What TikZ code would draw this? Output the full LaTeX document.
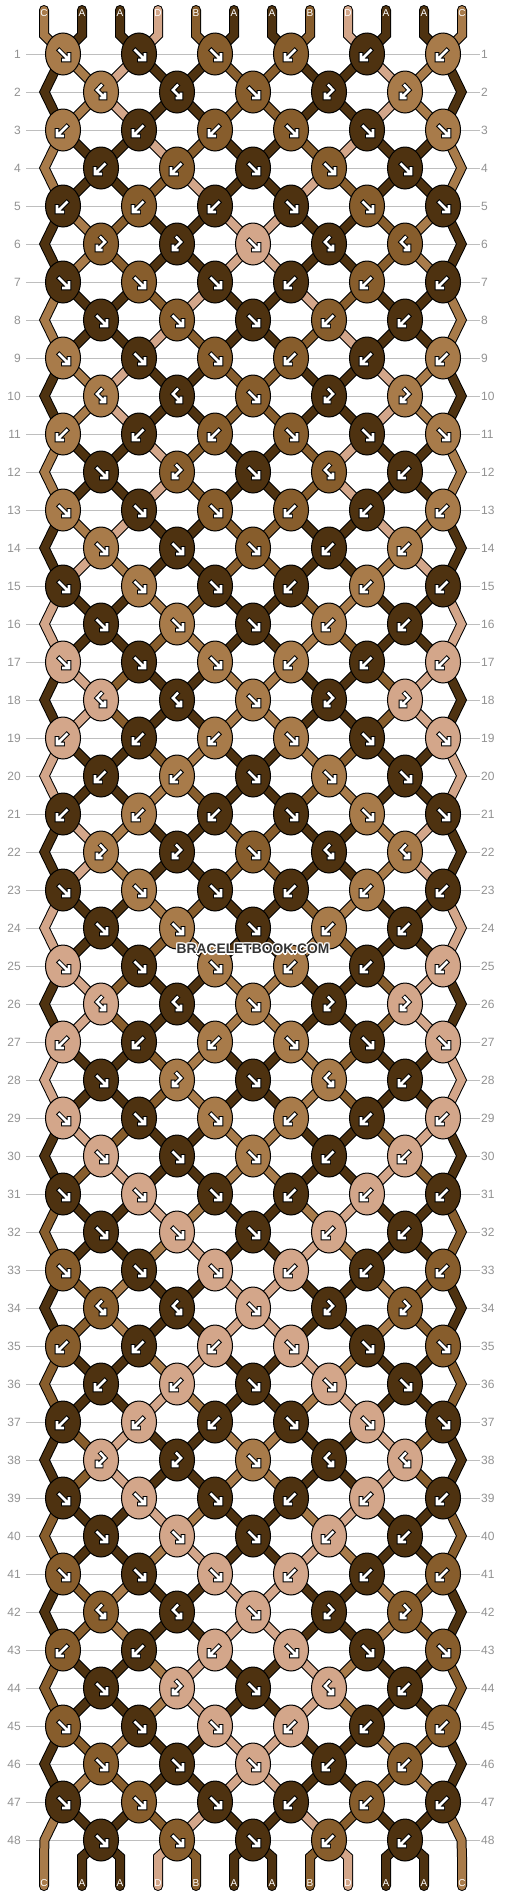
\documentclass[tikz,border=0pt]{standalone}
\usepackage{fontspec}
\setmainfont{Liberation Sans}
\usetikzlibrary{shapes.geometric}
\definecolor{cA}{HTML}{4E3210}
\definecolor{cB}{HTML}{875D2C}
\definecolor{cC}{HTML}{A87B4A}
\definecolor{cD}{HTML}{D3A68A}
\definecolor{gridc}{HTML}{BEBEBE}
\definecolor{numc}{HTML}{929292}
\definecolor{wmc}{HTML}{333333}
\pgfdeclarelayer{gridl}
\pgfdeclarelayer{strandl}
\pgfsetlayers{gridl,strandl,main}

\tikzset{
  outl/.style={line width=10pt, draw=black, line cap=round, line join=miter},
  fil/.style={line width=8pt, draw=\scol, line cap=round, line join=miter},
  knot/.style={ellipse, draw=black, line width=1pt, minimum width=35pt, minimum height=42pt, inner sep=0pt},
  arout/.style={line width=4.6pt, draw=black, line cap=butt, line join=miter},
  arin/.style={line width=2.6pt, draw=white, line cap=butt, line join=miter},
  numlab/.style={font=\fontsize{12}{12}\selectfont, text=numc, inner sep=0pt},
  endlab/.style={font=\fontsize{10}{10}\selectfont, text=white, inner sep=0pt},
  gridline/.style={draw=gridc, line width=1pt},
  wmark/.style={font=\bfseries\fontsize{13.8}{14}\selectfont, inner sep=0pt}
}

% string colours after each row (row 0 = start)
\foreach \st [count=\rr from 0] in {{C,A,A,D,B,A,A,B,D,A,A,C},
{A,C,D,A,A,B,B,A,A,D,C,A},
{A,C,D,A,A,B,B,A,A,D,C,A},
{C,A,A,D,B,A,A,B,D,A,A,C},
{C,A,A,B,D,A,A,D,B,A,A,C},
{A,C,B,A,A,D,D,A,A,B,C,A},
{A,C,B,A,A,D,D,A,A,B,C,A},
{C,A,A,B,D,A,A,D,B,A,A,C},
{C,A,A,D,B,A,A,B,D,A,A,C},
{A,C,D,A,A,B,B,A,A,D,C,A},
{A,C,D,A,A,B,B,A,A,D,C,A},
{C,A,A,D,B,A,A,B,D,A,A,C},
{C,A,A,D,B,A,A,B,D,A,A,C},
{A,C,D,A,A,B,B,A,A,D,C,A},
{A,D,C,A,A,B,B,A,A,C,D,A},
{D,A,A,C,B,A,A,B,C,A,A,D},
{D,A,A,B,C,A,A,C,B,A,A,D},
{A,D,B,A,A,C,C,A,A,B,D,A},
{A,D,B,A,A,C,C,A,A,B,D,A},
{D,A,A,B,C,A,A,C,B,A,A,D},
{D,A,A,C,B,A,A,B,C,A,A,D},
{A,D,C,A,A,B,B,A,A,C,D,A},
{A,D,C,A,A,B,B,A,A,C,D,A},
{D,A,A,C,B,A,A,B,C,A,A,D},
{D,A,A,B,C,A,A,C,B,A,A,D},
{A,D,B,A,A,C,C,A,A,B,D,A},
{A,D,B,A,A,C,C,A,A,B,D,A},
{D,A,A,B,C,A,A,C,B,A,A,D},
{D,A,A,B,C,A,A,C,B,A,A,D},
{A,D,B,A,A,C,C,A,A,B,D,A},
{A,B,D,A,A,C,C,A,A,D,B,A},
{B,A,A,D,C,A,A,C,D,A,A,B},
{B,A,A,C,D,A,A,D,C,A,A,B},
{A,B,C,A,A,D,D,A,A,C,B,A},
{A,B,C,A,A,D,D,A,A,C,B,A},
{B,A,A,C,D,A,A,D,C,A,A,B},
{B,A,A,D,C,A,A,C,D,A,A,B},
{A,B,D,A,A,C,C,A,A,D,B,A},
{A,B,D,A,A,C,C,A,A,D,B,A},
{B,A,A,D,C,A,A,C,D,A,A,B},
{B,A,A,C,D,A,A,D,C,A,A,B},
{A,B,C,A,A,D,D,A,A,C,B,A},
{A,B,C,A,A,D,D,A,A,C,B,A},
{B,A,A,C,D,A,A,D,C,A,A,B},
{B,A,A,C,D,A,A,D,C,A,A,B},
{A,B,C,A,A,D,D,A,A,C,B,A},
{A,C,B,A,A,D,D,A,A,B,C,A},
{C,A,A,B,D,A,A,D,B,A,A,C},
{C,A,A,D,B,A,A,B,D,A,A,C}}{\foreach \sc [count=\pp from 0] in \st {\expandafter\xdef\csname st-\rr-\pp\endcsname{\sc}}}

% knot colour / knot type for every row
\def\knotdata{{C/F,A/F,B/F,B/B,A/B,C/B},
{C/P,A/P,B/F,A/Q,C/Q},
{C/B,A/B,B/B,B/F,A/F,C/F},
{A/B,B/B,A/F,B/F,A/F},
{A/B,B/B,A/B,A/F,B/F,A/F},
{B/Q,A/Q,D/F,A/P,B/P},
{A/F,B/F,A/F,A/B,B/B,A/B},
{A/F,B/F,A/F,B/B,A/B},
{C/F,A/F,B/F,B/B,A/B,C/B},
{C/P,A/P,B/F,A/Q,C/Q},
{C/B,A/B,B/B,B/F,A/F,C/F},
{A/F,B/Q,A/F,B/P,A/B},
{C/F,A/F,B/F,B/B,A/B,C/B},
{C/F,A/F,B/F,A/B,C/B},
{A/F,C/F,A/F,A/B,C/B,A/B},
{A/F,C/F,A/F,C/B,A/B},
{D/F,A/F,C/F,C/B,A/B,D/B},
{D/P,A/P,C/F,A/Q,D/Q},
{D/B,A/B,C/B,C/F,A/F,D/F},
{A/B,C/B,A/F,C/F,A/F},
{A/B,C/B,A/B,A/F,C/F,A/F},
{C/Q,A/Q,B/F,A/P,C/P},
{A/F,C/F,A/F,A/B,C/B,A/B},
{A/F,C/F,A/F,C/B,A/B},
{D/F,A/F,C/F,C/B,A/B,D/B},
{D/P,A/P,C/F,A/Q,D/Q},
{D/B,A/B,C/B,C/F,A/F,D/F},
{A/F,C/Q,A/F,C/P,A/B},
{D/F,A/F,C/F,C/B,A/B,D/B},
{D/F,A/F,C/F,A/B,D/B},
{A/F,D/F,A/F,A/B,D/B,A/B},
{A/F,D/F,A/F,D/B,A/B},
{B/F,A/F,D/F,D/B,A/B,B/B},
{B/P,A/P,D/F,A/Q,B/Q},
{B/B,A/B,D/B,D/F,A/F,B/F},
{A/B,D/B,A/F,D/F,A/F},
{A/B,D/B,A/B,A/F,D/F,A/F},
{D/Q,A/Q,C/F,A/P,D/P},
{A/F,D/F,A/F,A/B,D/B,A/B},
{A/F,D/F,A/F,D/B,A/B},
{B/F,A/F,D/F,D/B,A/B,B/B},
{B/P,A/P,D/F,A/Q,B/Q},
{B/B,A/B,D/B,D/F,A/F,B/F},
{A/F,D/Q,A/F,D/P,A/B},
{B/F,A/F,D/F,D/B,A/B,B/B},
{B/F,A/F,D/F,A/B,B/B},
{A/F,B/F,A/F,A/B,B/B,A/B},
{A/F,B/F,A/F,B/B,A/B}}

% knot arrows
\newcommand\arF[2]{\begin{scope}[shift={(#1,#2)}]
  \draw[arout] (-5.3,-5.3) -- (6,6) (6,-1.8) -- (6,6) -- (-1.8,6);
  \draw[arin] (-4.6,-4.6) -- (6,6) (6,-1) -- (6,6) -- (-1,6);
\end{scope}}
\newcommand\arB[2]{\begin{scope}[shift={(#1,#2)}]
  \draw[arout] (5.3,-5.3) -- (-6,6) (-6,-1.8) -- (-6,6) -- (1.8,6);
  \draw[arin] (4.6,-4.6) -- (-6,6) (-6,-1) -- (-6,6) -- (1,6);
\end{scope}}
\newcommand\arP[2]{\begin{scope}[shift={(#1,#2)}]
  \draw[arout] (1.6,-8.1) -- (-4,-2) -- (4,6) (4,-0.3) -- (4,6) -- (-2.3,6);
  \draw[arin] (1.1,-7.5) -- (-4,-2) -- (4,6) (4,0.5) -- (4,6) -- (-1.5,6);
\end{scope}}
\newcommand\arQ[2]{\begin{scope}[shift={(#1,#2)}]
  \draw[arout] (-1.6,-8.1) -- (4,-2) -- (-4,6) (-4,-0.3) -- (-4,6) -- (2.3,6);
  \draw[arin] (-1.1,-7.5) -- (4,-2) -- (-4,6) (-4,0.5) -- (-4,6) -- (1.5,6);
\end{scope}}

\newcommand\allstrands[1]{%
  \foreach \pp in {0,...,11}{%
    \pgfmathtruncatemacro\ja{\pp/2}%
    \edef\scol{c\csname st-0-\pp\endcsname}%
    \draw[#1] (tt\pp) -- (t\pp) -- (k1-\ja.center);
  }%
  \foreach \rr in {1,...,47}{%
    \pgfmathtruncatemacro\rn{\rr+1}%
    \foreach \pp in {1,...,10}{%
      \ifodd\rr\relax
        \pgfmathtruncatemacro\ja{\pp/2}\pgfmathtruncatemacro\jb{(\pp-1)/2}%
      \else
        \pgfmathtruncatemacro\ja{(\pp-1)/2}\pgfmathtruncatemacro\jb{\pp/2}%
      \fi
      \edef\scol{c\csname st-\rr-\pp\endcsname}%
      \draw[#1] (k\rr-\ja.center) -- (k\rn-\jb.center);
    }%
  }%
  \foreach \ee in {2,4,...,46}{%
    \pgfmathtruncatemacro\ep{\ee-1}\pgfmathtruncatemacro\en{\ee+1}%
    \edef\scol{c\csname st-\ep-0\endcsname}%
    \draw[#1] (k\ep-0.center) -- (eL\ee) -- (k\en-0.center);
    \edef\scol{c\csname st-\ep-11\endcsname}%
    \draw[#1] (k\ep-5.center) -- (eR\ee) -- (k\en-5.center);
  }%
  \edef\scol{c\csname st-47-0\endcsname}%
  \draw[#1] (k47-0.center) -- (eL48) -- (b0) -- (bb0);
  \edef\scol{c\csname st-47-11\endcsname}%
  \draw[#1] (k47-5.center) -- (eR48) -- (b11) -- (bb11);
  \foreach \pp in {1,...,10}{%
    \pgfmathtruncatemacro\jb{(\pp-1)/2}%
    \edef\scol{c\csname st-48-\pp\endcsname}%
    \draw[#1] (k48-\jb.center) -- (b\pp) -- (bb\pp);
  }%
}

\begin{document}
\begin{tikzpicture}[x=1pt,y=-1pt]
\begin{pgfonlayer}{gridl}
  \fill[white] (0,0) rectangle (506,1896);
\end{pgfonlayer}
\useasboundingbox (0,0) rectangle (506,1896);

% end points of the strings
\foreach \pp in {0,...,11}{
  \pgfmathsetmacro\xx{44+38*\pp}
  \coordinate (tt\pp) at (\xx,10);
  \coordinate (t\pp) at (\xx,35);
  \coordinate (b\pp) at (\xx,1857);
  \coordinate (bb\pp) at (\xx,1886);
  \node[endlab] (lt\pp) at (\xx,13) {\csname st-0-\pp\endcsname};
  \node[endlab] (lb\pp) at (\xx,1883) {\csname st-48-\pp\endcsname};
}
% edge turning points
\foreach \ee in {2,4,...,48}{
  \pgfmathsetmacro\yy{16+38*\ee}
  \coordinate (eL\ee) at (44.5,\yy);
  \coordinate (eR\ee) at (461.5,\yy);
}

% row numbers and guide lines
\foreach \rr in {1,...,48}{
  \pgfmathsetmacro\yy{16+38*\rr}
  \node[numlab, anchor=east] (nl\rr) at (21,\yy) {\rr};
  \node[numlab, anchor=west] (nr\rr) at (481,\yy) {\rr};
}
\begin{pgfonlayer}{gridl}
  \foreach \rr in {1,...,48}{
    \draw[gridline] ([xshift=5pt]nl\rr.east) -- ([xshift=-1pt]nr\rr.west);
  }
\end{pgfonlayer}

% knots
\foreach \kr [count=\rr] in \knotdata {
  \foreach \kc/\kt [count=\jj from 0] in \kr {
    \pgfmathsetmacro\ky{16+38*\rr}
    \ifodd\rr\relax
      \pgfmathsetmacro\kx{63+76*\jj}
    \else
      \pgfmathsetmacro\kx{101+76*\jj}
    \fi
    \edef\kcol{c\kc}
    \node[knot, fill=\kcol] (k\rr-\jj) at (\kx,\ky) {};
    \csname ar\kt\endcsname{\kx}{\ky}
  }
}

% strings
\begin{pgfonlayer}{strandl}
  \allstrands{outl}
  \allstrands{fil}
\end{pgfonlayer}

% watermark
\foreach \dx/\dy [count=\hh] in {1.3/0,-1.3/0,0/1.3,0/-1.3,1/1,1/-1,-1/1,-1/-1}{
  \node[wmark, text=white] (wmh\hh) at ({253+\dx},{949+\dy}) {BRACELETBOOK.COM};
}
\node[wmark, text=wmc] (wm) at (253,949) {BRACELETBOOK.COM};
\end{tikzpicture}
\end{document}
